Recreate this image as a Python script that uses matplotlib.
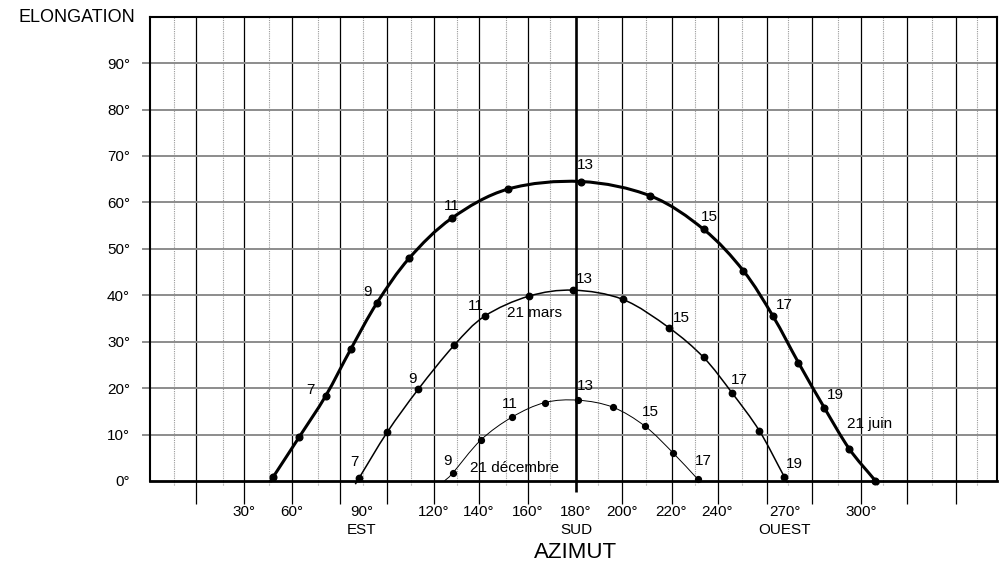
import matplotlib.pyplot as plt
import numpy as np
from matplotlib.path import Path
from matplotlib.patches import PathPatch

plt.rcParams['font.family'] = ['Liberation Sans', 'DejaVu Sans']

# the hand drawn azimuth scale is not linear: azimuth -> position along the axis
AZ_KNOTS = [-30, 30, 60, 90, 120, 140, 160, 180, 200, 220, 240, 270, 300, 360]
POS_KNOTS = [148, 244, 292, 362, 434, 479, 528, 576, 622, 671, 717, 785, 861, 1013]

x_ticks = [30, 60, 90, 120, 140, 160, 180, 200, 220, 240, 270, 300]
x_labels = ['30°', '60°', '90°\nEST', '120°', '140°', '160°', '180°\nSUD',
            '200°', '220°', '240°', '270°\nOUEST', '300°']
y_ticks = [0, 10, 20, 30, 40, 50, 60, 70, 80, 90]
y_labels = ['0°', '10°', '20°', '30°', '40°', '50°', '60°', '70°', '80°', '90°']

# 21 juin
juin_hours = list(range(5, 22))
juin_az = [48.3, 63.0, 74.4, 85.2, 96.3, 109.7, 127.9, 152.0, 182.2,
           211.6, 234.2, 251.6, 264.7, 275.3, 285.5, 295.4, 305.6]
juin_el = [0.9, 9.4, 18.3, 28.4, 38.4, 48.0, 56.6, 62.9, 64.5,
           61.4, 54.2, 45.3, 35.5, 25.5, 15.8, 6.9, 0.1]

# 21 mars
mars_hours = list(range(7, 20))
mars_az = [88.7, 100.5, 113.5, 128.9, 142.3, 160.3, 178.9,
           200.4, 219.2, 234.2, 246.6, 258.7, 269.7]
mars_el = [0.6, 10.5, 19.8, 29.2, 35.5, 39.8, 41.1,
           39.1, 33.0, 26.6, 19.0, 10.8, 0.9]

# 21 decembre (curve starts at sunrise, before the 9h dot)
dec_hours = list(range(9, 18))
dec_az = [128.3, 140.7, 153.6, 167.1, 181.0, 196.0, 209.4, 221.0, 231.6]
dec_el = [1.7, 8.8, 13.8, 16.9, 17.4, 15.9, 11.8, 6.0, 0.4]
dec_rise_az = 124.6
dec_rise_el = 0.0

# grid columns, in axis positions
SOLID_POS = [196, 244, 292, 340, 387, 434, 479, 528, 622, 672, 718, 767, 812, 861, 907, 956]
DOTTED_POS = [174, 223, 269, 318, 363, 411, 457, 506, 550, 598, 646, 695, 742, 788, 838, 883, 932, 977]
POS_LEFT, POS_RIGHT = 150, 997


def forward(az):
    return np.interp(az, AZ_KNOTS, POS_KNOTS)


def inverse(pos):
    return np.interp(pos, POS_KNOTS, AZ_KNOTS)


def smooth_curve(az, el, tail=0.0):
    # Catmull-Rom through the points, drawn as cubic bezier segments
    pts = np.column_stack([forward(np.asarray(az, float)), np.asarray(el, float)])
    P = np.vstack([2 * pts[0] - pts[1], pts, 2 * pts[-1] - pts[-2]])
    verts, codes = [], []
    if tail:
        verts.append(pts[0] + (pts[0] - pts[1]) * tail)
        codes.append(Path.MOVETO)
        verts.append(pts[0])
        codes.append(Path.LINETO)
    else:
        verts.append(pts[0])
        codes.append(Path.MOVETO)
    for i in range(1, len(P) - 2):
        b1 = P[i] + (P[i + 1] - P[i - 1]) / 6
        b2 = P[i + 1] - (P[i + 2] - P[i]) / 6
        verts += [b1, b2, P[i + 1]]
        codes += [Path.CURVE4] * 3
    if tail:
        verts.append(pts[-1] + (pts[-1] - pts[-2]) * tail)
        codes.append(Path.LINETO)
    verts = np.array(verts)
    verts[:, 0] = inverse(verts[:, 0])
    return Path(verts, codes)


fig = plt.figure(figsize=(10.04, 5.63), dpi=100)
ax = fig.add_axes([POS_LEFT / 1004, 82 / 563, (POS_RIGHT - POS_LEFT) / 1004, (481 - 16.7) / 563])
ax.set_xscale('function', functions=(forward, inverse))
ax.set_xlim(inverse(POS_LEFT), inverse(POS_RIGHT))
ax.set_ylim(0, 100)

# grid
ax.vlines(inverse(DOTTED_POS), -0.8, 100, colors='#9a9a9a', lw=0.8,
          linestyles=(0, (1, 1)), clip_on=False, zorder=1)
ax.vlines(inverse(SOLID_POS), -5, 100, colors='black', lw=0.9, clip_on=False, zorder=1)
ax.vlines(180, -2.4, 100, colors='black', lw=1.9, clip_on=False, zorder=2)
for y in y_ticks[1:]:
    ax.axhline(y, xmin=-7 / 847, xmax=1, color='#8c8c8c', lw=1.4, clip_on=False, zorder=1)

# sun paths
curves = [
    (juin_az, juin_el, 2.2, 0.13),
    (mars_az, mars_el, 1.1, 0.13),
    ([dec_rise_az] + dec_az, [dec_rise_el] + dec_el, 0.7, 0.0),
]
for az, el, lw, tail in curves:
    ax.add_patch(PathPatch(smooth_curve(az, el, tail), fill=False, edgecolor='black',
                           lw=lw, clip_on=False, zorder=3))
ax.plot(juin_az, juin_el, 'o', color='black', ms=4.8, clip_on=False, zorder=4)
ax.plot(mars_az, mars_el, 'o', color='black', ms=4.6, clip_on=False, zorder=4)
ax.plot(dec_az, dec_el, 'o', color='black', ms=4.2, clip_on=False, zorder=4)

# hour labels, offsets in points
juin_lab = {7: (-11, 4), 9: (-7, 8), 11: (0, 9), 13: (3, 12), 15: (4, 9), 17: (8, 8), 19: (8, 9)}
mars_lab = {7: (-3, 12), 9: (-4, 7), 11: (-6, 7), 13: (8, 8), 15: (9, 7), 17: (5, 9), 19: (7, 9)}
dec_lab = {9: (-4, 9), 11: (-2, 9), 13: (5, 10), 15: (4, 10), 17: (4, 13)}
for az, el, hours, labs in [(juin_az, juin_el, juin_hours, juin_lab),
                            (mars_az, mars_el, mars_hours, mars_lab),
                            (dec_az, dec_el, dec_hours, dec_lab)]:
    for a, e, h in zip(az, el, hours):
        if h in labs:
            ax.annotate(str(h), (a, e), xytext=labs[h], textcoords='offset points',
                        ha='center', va='center', fontsize=11, zorder=5)

ax.text(303.2, 12.3, '21 juin', ha='center', va='center', fontsize=11)
ax.text(162.9, 36.1, '21 mars', ha='center', va='center', fontsize=11)
ax.text(154.3, 2.8, '21 décembre', ha='center', va='center', fontsize=11)

# axes
ax.set_xticks(x_ticks, x_labels)
ax.set_yticks(y_ticks, y_labels)
ax.tick_params(axis='x', length=0, pad=17, labelsize=11)
ax.tick_params(axis='y', length=0, pad=14.4, labelsize=11)
for lbl in ax.get_xticklabels():
    lbl.set_linespacing(1.4)
ax.xaxis.set_minor_locator(plt.NullLocator())
for side in ['top', 'left', 'right']:
    ax.spines[side].set_linewidth(1.5)
ax.spines['bottom'].set_linewidth(2.0)

fig.text(18 / 1004, 1 - 17 / 563, 'ELONGATION', ha='left', va='center', fontsize=13)
fig.text(576 / 1004, 1 - 552 / 563, 'AZIMUT', ha='center', va='center', fontsize=16)

fig.savefig('out.png', dpi=100)
